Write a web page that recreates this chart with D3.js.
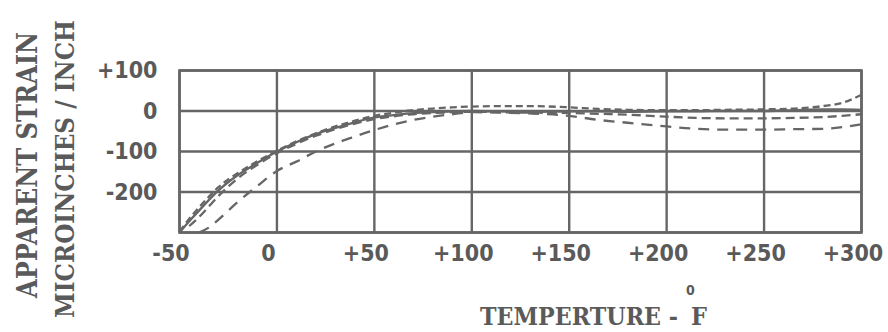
<!DOCTYPE html>
<html>
<head>
<meta charset="utf-8">
<script src="https://cdn.jsdelivr.net/npm/d3@7"></script>
<style>
  html, body { margin: 0; padding: 0; background: #ffffff; }
  svg { display: block; }
</style>
</head>
<body>
<svg id="chart" width="888" height="332"></svg>
<script>
// ---- data ----
const temps = [-50,-45,-40,-35,-30,-20,-10,0,10,20,30,40,50,60,70,80,90,100,115,130,150,165,180,200,215,230,250,265,280,290,300];
const solidStrain = [-300,-272,-246,-220,-196,-158,-128,-100,-77,-57,-42,-28,-16,-10,-5,-3,-1,0,-1,-2,-1,-1,-2,-1,-1,0,0,2,4,4,3];
const upperDashStrain = [-298,-266,-238,-212,-188,-153,-124,-98,-75,-55,-38,-24,-12,-4,2,6,9,11,12,12,9,5,3,2,2,3,4,6,12,20,40];
const midDashStrain = [null,-284,-262,-236,-210,-166,-133,-104,-81,-61,-45,-31,-20,-13,-8,-5,-3,-2,-3,-4,-5,-7,-9,-14,-17,-18,-18,-17,-15,-12,-8];
const longDashStrain = [null,null,-300,-288,-268,-224,-185,-148,-125,-100,-80,-63,-47,-33,-22,-14,-8,-3,-4,-6,-12,-22,-29,-38,-44,-46,-46,-45,-44,-40,-33];
const xTicks = [-50,0,50,100,150,200,250,300];
const yTicks = [100,0,-100,-200];
const yGrid = [100,0,-100,-200,-300];
const yTitleLine1 = "APPARENT STRAIN";
const yTitleLine2 = "MICROINCHES / INCH";
const xTitle = "TEMPERTURE -";
const xTitleUnit = "F";
const xTitleDegree = "0";

const series = [
  {name: "solid", values: solidStrain, dash: null},
  {name: "upper", values: upperDashStrain, dash: "7,4"},
  {name: "mid", values: midDashStrain, dash: "9,5"},
  {name: "lower", values: longDashStrain, dash: "11,8"}
];

// ---- layout ----
const ink = "#666666";
const textInk = "#5a5a5a";
const svg = d3.select("#chart");
const x = d3.scaleLinear().domain([-50, 300]).range([179.5, 861.5]);
const y = d3.scaleLinear().domain([-300, 100]).range([232.5, 70.5]);

// grid
const g = svg.append("g");
g.selectAll("line.v").data(xTicks).join("line")
  .attr("x1", d => x(d)).attr("x2", d => x(d))
  .attr("y1", y(100)).attr("y2", y(-300))
  .attr("stroke", ink).attr("stroke-width", 2.4);
g.selectAll("line.h").data(yGrid).join("line")
  .attr("x1", x(-50)).attr("x2", x(300))
  .attr("y1", d => y(d)).attr("y2", d => y(d))
  .attr("stroke", ink).attr("stroke-width", 2.4);
g.append("rect")
  .attr("x", x(-50)).attr("y", y(100))
  .attr("width", x(300) - x(-50)).attr("height", y(-300) - y(100))
  .attr("fill", "none").attr("stroke", ink).attr("stroke-width", 2.6);

// curves
const line = d3.line()
  .defined(d => d[1] !== null)
  .x(d => x(d[0])).y(d => y(d[1]))
  .curve(d3.curveMonotoneX);
svg.append("g").selectAll("path").data(series).join("path")
  .attr("d", s => line(temps.map((t, i) => [t, s.values[i]])))
  .attr("fill", "none")
  .attr("stroke", ink)
  .attr("stroke-width", 2.3)
  .attr("stroke-dasharray", s => s.dash);

// axes (labels only, no tick marks)
const fmt = d => d > 0 ? "+" + d : String(d);
const yAxis = svg.append("g")
  .attr("transform", `translate(${x(-50)},0)`)
  .call(d3.axisLeft(y).tickValues(yTicks).tickFormat(fmt).tickSize(0).tickPadding(22));
const xAxis = svg.append("g")
  .attr("transform", `translate(0,${y(-300)})`)
  .call(d3.axisBottom(x).tickValues(xTicks).tickFormat(fmt).tickSize(0).tickPadding(12));
[yAxis, xAxis].forEach(a => {
  a.select(".domain").remove();
  a.selectAll("text")
    .attr("fill", textInk)
    .style("font-family", "'DejaVu Sans', sans-serif")
    .style("font-stretch", "condensed")
    .style("font-weight", "bold")
    .style("font-size", "23px");
});
xAxis.selectAll("text").attr("dx", -9);

// axis titles (condensed slab-like serif)
const serif = "'DejaVu Serif', serif";
const titleText = sel => sel
  .style("font-family", serif).style("font-stretch", "condensed")
  .style("font-weight", "bold").attr("fill", textInk);

svg.append("text")
  .attr("transform", "translate(37,165) rotate(-90)")
  .attr("text-anchor", "middle")
  .attr("textLength", 266).attr("lengthAdjust", "spacingAndGlyphs")
  .style("font-size", "27px")
  .call(titleText).text(yTitleLine1);
svg.append("text")
  .attr("transform", "translate(74,169) rotate(-90)")
  .attr("text-anchor", "middle")
  .attr("textLength", 298).attr("lengthAdjust", "spacingAndGlyphs")
  .style("font-size", "26px")
  .call(titleText).text(yTitleLine2);

svg.append("text")
  .attr("x", 480).attr("y", 325)
  .attr("textLength", 198).attr("lengthAdjust", "spacingAndGlyphs")
  .style("font-size", "25px")
  .call(titleText).text(xTitle);
svg.append("text")
  .attr("x", 691).attr("y", 325)
  .style("font-size", "25px")
  .call(titleText).text(xTitleUnit);
svg.append("text")
  .attr("x", 686).attr("y", 295)
  .style("font-family", "'DejaVu Sans', sans-serif").style("font-stretch", "condensed")
  .style("font-weight", "bold").style("font-size", "14px")
  .attr("fill", textInk).text(xTitleDegree);
</script>
</body>
</html>
